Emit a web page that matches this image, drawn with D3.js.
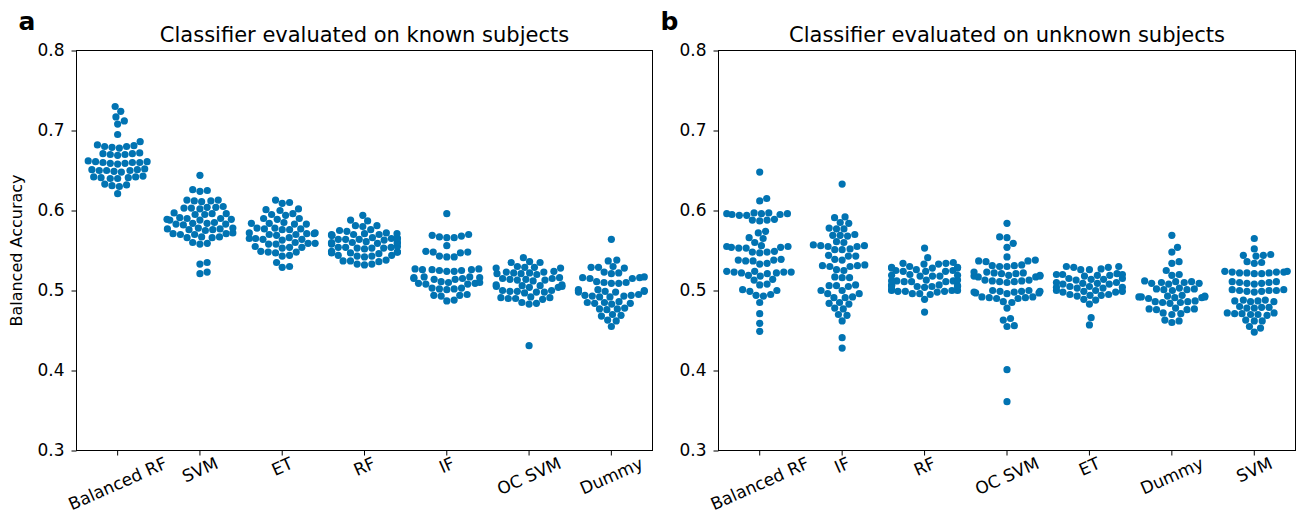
<!DOCTYPE html>
<meta charset="utf-8">
<html>
<head>
  <title>Classifier swarm plots</title>
  <script src="https://cdn.jsdelivr.net/npm/d3@7"></script>
  <style>
    body { margin: 0; background: #fff; }
    text { font-family: "DejaVu Sans", sans-serif; fill: #000; }
    .tick line { stroke: #000; }
  </style>
</head>
<body>
  <svg id="svg" width="1298" height="522"></svg>

  <script>
    // ---- data (one line per visible row of the swarm) ----
    var knownCats = ["Balanced RF", "SVM", "ET", "RF", "IF", "OC SVM", "Dummy"];
    var unknownCats = ["Balanced RF", "IF", "RF", "OC SVM", "ET", "Dummy", "SVM"];
    var yTicks = [0.3, 0.4, 0.5, 0.6, 0.7, 0.8];

    var knownBalancedRF = [0.730, 0.724, 0.717, 0.712, 0.708, 0.695, 0.686,
      0.682, 0.681, 0.680, 0.680, 0.679, 0.678,
      0.672, 0.671, 0.671, 0.670, 0.670, 0.669,
      0.662, 0.661, 0.661, 0.660, 0.660, 0.660, 0.659, 0.659, 0.658,
      0.652, 0.651, 0.651, 0.650, 0.650, 0.650, 0.649, 0.648,
      0.643, 0.642, 0.642, 0.641, 0.641, 0.640, 0.640,
      0.633, 0.632, 0.631, 0.630,
      0.621];
    var knownSVM = [0.644,
      0.626, 0.625, 0.624,
      0.613, 0.613, 0.612, 0.612, 0.611,
      0.605, 0.604, 0.604, 0.603, 0.603, 0.602,
      0.597, 0.596, 0.596, 0.595, 0.595,
      0.591, 0.590, 0.590, 0.589, 0.589, 0.588, 0.588,
      0.585, 0.584, 0.584, 0.583, 0.583, 0.582,
      0.578, 0.578, 0.577, 0.577, 0.576, 0.576, 0.575,
      0.572, 0.571, 0.571, 0.570, 0.570,
      0.567, 0.567, 0.566, 0.566,
      0.560, 0.559, 0.558,
      0.535, 0.533, 0.523, 0.521];
    var knownET = [0.613,
      0.610, 0.609,
      0.602, 0.601, 0.600,
      0.596, 0.595, 0.594,
      0.590, 0.590, 0.589,
      0.585, 0.584, 0.584, 0.583, 0.583,
      0.578, 0.578, 0.577, 0.577, 0.576, 0.576,
      0.572, 0.572, 0.571, 0.571, 0.570, 0.570, 0.569,
      0.566, 0.565, 0.565, 0.564, 0.564, 0.563,
      0.560, 0.559, 0.559, 0.558, 0.558,
      0.555, 0.554, 0.554, 0.553,
      0.549, 0.548, 0.548, 0.547,
      0.544, 0.543,
      0.535,
      0.530, 0.529];
    var knownRF = [0.594,
      0.588, 0.587,
      0.581, 0.581, 0.580,
      0.576, 0.575, 0.574,
      0.572, 0.571, 0.571, 0.570, 0.570, 0.570, 0.569, 0.569,
      0.566, 0.565, 0.565, 0.565, 0.564, 0.564, 0.564, 0.563,
      0.561, 0.560, 0.560, 0.560, 0.559, 0.559, 0.559, 0.558,
      0.555, 0.554, 0.554, 0.554, 0.553, 0.553, 0.553, 0.552,
      0.549, 0.548, 0.548, 0.548, 0.547, 0.547, 0.546,
      0.544, 0.544, 0.543, 0.543, 0.542,
      0.538, 0.537, 0.537, 0.536,
      0.533, 0.533, 0.532];
    var knownIF = [0.596,
      0.570, 0.569, 0.568,
      0.567, 0.566, 0.566,
      0.556,
      0.549, 0.548, 0.548, 0.547,
      0.543, 0.542, 0.542,
      0.527, 0.527, 0.526, 0.526, 0.526, 0.525, 0.525, 0.524, 0.524,
      0.517, 0.517, 0.516, 0.516, 0.515, 0.515, 0.514, 0.514,
      0.511, 0.510, 0.510, 0.509, 0.509, 0.508, 0.508,
      0.503, 0.503, 0.502, 0.502, 0.501,
      0.495, 0.494, 0.494, 0.493,
      0.488, 0.487];
    var knownOCSVM = [0.541,
      0.536, 0.535, 0.535,
      0.530, 0.529, 0.529, 0.528, 0.528,
      0.524, 0.523, 0.523, 0.522, 0.522, 0.521, 0.521, 0.520,
      0.516, 0.515, 0.515, 0.514, 0.514, 0.513, 0.513, 0.512,
      0.507, 0.507, 0.506, 0.506, 0.505, 0.505, 0.504, 0.504,
      0.500, 0.500, 0.499, 0.499, 0.498, 0.498, 0.497,
      0.492, 0.491, 0.491, 0.490, 0.490, 0.489,
      0.485, 0.484, 0.483,
      0.431];
    var knownDummy = [0.564,
      0.538, 0.537,
      0.530, 0.529, 0.529, 0.528,
      0.523, 0.522, 0.521,
      0.517, 0.516, 0.516, 0.515, 0.515,
      0.511, 0.510, 0.510, 0.509, 0.509,
      0.501, 0.501, 0.500, 0.500, 0.499, 0.499, 0.498, 0.498,
      0.495, 0.494, 0.494, 0.493, 0.493, 0.492, 0.492,
      0.486, 0.485, 0.485, 0.484, 0.484, 0.483,
      0.478, 0.477, 0.477, 0.476,
      0.470, 0.469, 0.468,
      0.463, 0.462,
      0.455];

    var unknownBalancedRF = [0.648, 0.615, 0.612,
      0.597, 0.597, 0.596, 0.596, 0.596, 0.595, 0.595, 0.594, 0.594,
      0.589, 0.588, 0.588, 0.587,
      0.574, 0.572,
      0.566, 0.565,
      0.560,
      0.556, 0.555, 0.555, 0.554, 0.554, 0.553, 0.553,
      0.549, 0.548, 0.548, 0.547,
      0.539, 0.538, 0.538, 0.537, 0.537,
      0.534, 0.533,
      0.524, 0.524, 0.523, 0.523, 0.523, 0.522, 0.522, 0.521,
      0.519, 0.518,
      0.514, 0.513,
      0.508, 0.507,
      0.501, 0.500, 0.499,
      0.495, 0.494, 0.493,
      0.485, 0.471, 0.459, 0.449];
    var unknownIF = [0.633,
      0.592, 0.591,
      0.585, 0.584,
      0.578, 0.577, 0.577,
      0.570, 0.569, 0.569, 0.568,
      0.561, 0.560,
      0.557, 0.556, 0.556, 0.555, 0.555,
      0.552, 0.551, 0.551,
      0.544, 0.543, 0.543,
      0.539, 0.538,
      0.532, 0.531, 0.531, 0.530, 0.530,
      0.526, 0.525,
      0.517, 0.516, 0.516,
      0.507, 0.506, 0.506, 0.505,
      0.500, 0.500,
      0.496, 0.496,
      0.492, 0.491, 0.491,
      0.485, 0.484, 0.483,
      0.478, 0.477,
      0.470, 0.469,
      0.462, 0.441, 0.428];
    var unknownRF = [0.553, 0.541,
      0.535, 0.534, 0.534, 0.533, 0.533,
      0.530, 0.529, 0.529, 0.528, 0.528, 0.528,
      0.526, 0.525, 0.525, 0.524, 0.524, 0.524,
      0.520, 0.519, 0.519, 0.518, 0.518, 0.518,
      0.513, 0.513, 0.512, 0.512, 0.512, 0.511, 0.511, 0.511,
      0.507, 0.506, 0.506, 0.506, 0.505, 0.505, 0.505, 0.504,
      0.501, 0.500, 0.500, 0.500, 0.499, 0.499, 0.499, 0.498,
      0.496, 0.496, 0.495,
      0.489, 0.473];
    var unknownOCSVM = [0.584,
      0.567, 0.566,
      0.559, 0.554, 0.542,
      0.538, 0.537, 0.537, 0.536,
      0.532, 0.531, 0.531, 0.530, 0.530,
      0.523, 0.523, 0.522, 0.522, 0.521, 0.521,
      0.519, 0.519, 0.518, 0.518, 0.517, 0.517,
      0.513, 0.513, 0.512, 0.512, 0.511, 0.511, 0.510,
      0.500, 0.500, 0.499, 0.499, 0.499, 0.498, 0.498, 0.497, 0.497, 0.496,
      0.492, 0.492, 0.491, 0.491, 0.490, 0.490,
      0.486, 0.485,
      0.478,
      0.465, 0.463,
      0.456, 0.455,
      0.401, 0.361];
    var unknownET = [0.530, 0.530, 0.529, 0.529,
      0.527, 0.526, 0.526,
      0.521, 0.520, 0.520, 0.520, 0.519, 0.519, 0.518,
      0.515, 0.515, 0.514, 0.514, 0.513,
      0.510, 0.510, 0.509, 0.509, 0.508, 0.508,
      0.505, 0.505, 0.504, 0.504, 0.503, 0.503,
      0.500, 0.500, 0.499, 0.499, 0.498, 0.498,
      0.495, 0.495, 0.494, 0.494, 0.493,
      0.489, 0.488,
      0.483,
      0.466, 0.457];
    var unknownDummy = [0.569, 0.554, 0.548,
      0.536, 0.534,
      0.525,
      0.520, 0.519,
      0.512, 0.511, 0.511, 0.510, 0.510, 0.509, 0.509, 0.508,
      0.503, 0.502, 0.502, 0.501, 0.501, 0.500,
      0.494, 0.493, 0.493, 0.492, 0.492, 0.492, 0.491, 0.491, 0.490,
      0.487, 0.486, 0.486, 0.485, 0.485, 0.484,
      0.478, 0.477, 0.477, 0.476, 0.476,
      0.472, 0.471, 0.470,
      0.463, 0.462,
      0.460];
    var unknownSVM = [0.565, 0.552,
      0.545, 0.544, 0.544, 0.543,
      0.536, 0.535, 0.534,
      0.524, 0.524, 0.523, 0.523, 0.523, 0.522, 0.522, 0.522, 0.521, 0.521,
      0.511, 0.511, 0.510, 0.510, 0.509, 0.509, 0.508,
      0.501, 0.501, 0.500, 0.500, 0.500, 0.499, 0.499, 0.498,
      0.488, 0.488, 0.487, 0.487, 0.486, 0.486,
      0.480, 0.479, 0.479, 0.478, 0.478,
      0.472, 0.472, 0.471, 0.471, 0.470, 0.470, 0.469,
      0.463, 0.462, 0.462,
      0.455, 0.453,
      0.448];

    var knownSeries = [knownBalancedRF, knownSVM, knownET, knownRF, knownIF, knownOCSVM, knownDummy];
    var unknownSeries = [unknownBalancedRF, unknownIF, unknownRF, unknownOCSVM, unknownET, unknownDummy, unknownSVM];

    // ---- layout ----
    var svg = d3.select("#svg");
    var dotColor = "#0173b2";
    var radius = 3.6;
    var plotTop = 50.5, plotBottom = 450.5;
    var labelAngle = 24;
    var labelSize = 17;

    var y = d3.scaleLinear().domain([0.3, 0.8]).range([plotBottom, plotTop]);

    // seaborn-like beeswarm: place points in value order, nearest to center without overlap,
    // then push anything past the gutter (80% of the band) back onto the gutter
    function swarm(values, cx, halfWidth) {
      var d = 2 * radius + 0.2;
      var pts = values.map(function (v) { return { v: v, y: y(v) }; })
        .sort(function (a, b) { return a.v - b.v; });
      var placed = [];
      pts.forEach(function (p) {
        var near = placed.filter(function (q) { return Math.abs(q.y - p.y) < d; });
        var cands = [0];
        near.forEach(function (q) {
          var off = Math.sqrt(d * d - (q.y - p.y) * (q.y - p.y));
          cands.push(q.dx + off, q.dx - off);
        });
        cands.sort(function (a, b) { return Math.abs(a) - Math.abs(b); });
        for (var i = 0; i < cands.length; i++) {
          var c = cands[i];
          var ok = near.every(function (q) {
            var dx = c - q.dx, dy = q.y - p.y;
            return dx * dx + dy * dy >= d * d - 0.01;
          });
          if (ok) { p.dx = c; break; }
        }
        placed.push(p);
      });
      return pts.map(function (p) {
        var dx = Math.max(-halfWidth, Math.min(halfWidth, p.dx));
        return { x: cx + dx, y: p.y };
      });
    }

    function panel(left, right, cats, series, title, letter, showYLabel) {
      var x = d3.scaleBand().domain(cats).range([left, right]);
      var g = svg.append("g");

      // dots
      cats.forEach(function (c, i) {
        var cx = x(c) + x.bandwidth() / 2;
        g.selectAll(null)
          .data(swarm(series[i], cx, x.bandwidth() * 0.4))
          .enter()
          .append("circle")
          .attr("cx", function (d) { return d.x; })
          .attr("cy", function (d) { return d.y; })
          .attr("r", radius)
          .attr("fill", dotColor);
      });

      // frame
      g.append("rect")
        .attr("x", left).attr("y", plotTop)
        .attr("width", right - left).attr("height", plotBottom - plotTop)
        .attr("fill", "none").attr("stroke", "#000").attr("stroke-width", 1);

      // y axis
      var ya = g.append("g")
        .attr("transform", "translate(" + left + ",0)")
        .call(d3.axisLeft(y).tickValues(yTicks).tickFormat(d3.format(".1f")).tickSize(5).tickPadding(7));
      ya.select(".domain").remove();
      ya.selectAll("text").style("font-size", "17px").style("font-family", "DejaVu Sans");

      // x axis with rotated labels
      var xa = g.append("g")
        .attr("transform", "translate(0," + plotBottom + ")")
        .call(d3.axisBottom(x).tickSize(5));
      xa.select(".domain").remove();
      xa.selectAll(".tick text").remove();
      xa.selectAll(".tick").append("text")
        .style("font-size", labelSize + "px")
        .style("font-family", "DejaVu Sans")
        .attr("text-anchor", "middle")
        .attr("dominant-baseline", "central")
        .text(function (d) { return d; })
        .each(function () {
          var w = this.getComputedTextLength();
          var a = labelAngle * Math.PI / 180;
          var h = w * Math.sin(a) + labelSize * 0.72 * Math.cos(a);
          d3.select(this).attr("transform", "translate(0," + (6 + h / 2) + ") rotate(" + (-labelAngle) + ")");
        });

      // title and panel letter
      svg.append("text")
        .attr("x", (left + right) / 2).attr("y", 42)
        .attr("text-anchor", "middle")
        .style("font-size", "21px")
        .text(title);
      svg.append("text")
        .attr("x", left - 58).attr("y", 30)
        .style("font-size", "25px").style("font-weight", "bold")
        .text(letter);

      if (showYLabel) {
        svg.append("text")
          .attr("transform", "translate(22," + ((plotTop + plotBottom) / 2) + ") rotate(-90)")
          .attr("text-anchor", "middle")
          .style("font-size", "16px")
          .text("Balanced Accuracy");
      }
    }

    panel(76.5, 652.5, knownCats, knownSeries, "Classifier evaluated on known subjects", "a", true);
    panel(718.5, 1295.5, unknownCats, unknownSeries, "Classifier evaluated on unknown subjects", "b", false);
  </script>
</body>
</html>
